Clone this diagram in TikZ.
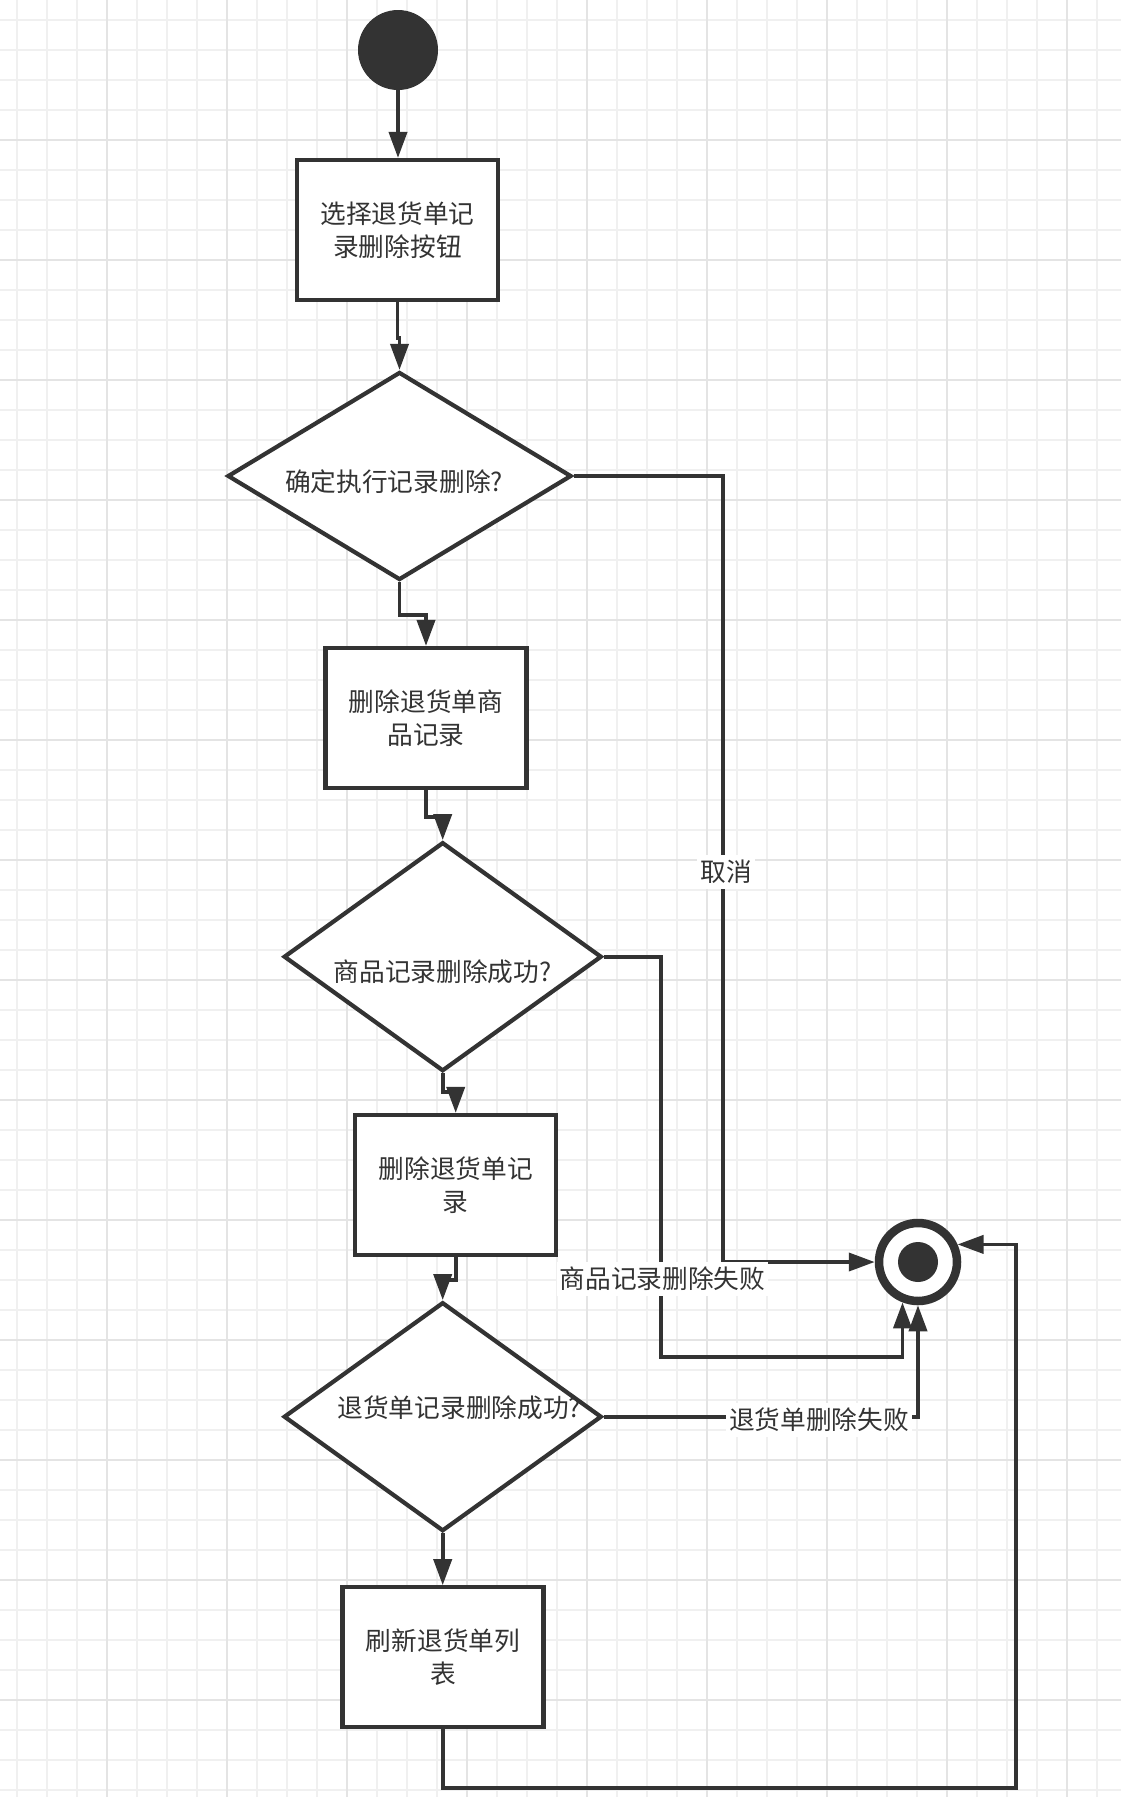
\documentclass[tikz,border=0pt]{standalone}
\usepackage{fontspec}
\setmainfont{Noto Sans CJK SC}
\usetikzlibrary{shapes.geometric,arrows.meta,calc}
\definecolor{ink}{HTML}{333333}
\definecolor{gridminor}{HTML}{F0F0F0}
\definecolor{gridmajor}{HTML}{E4E4E4}
\begin{document}
\begin{tikzpicture}[x=1pt,y=-1pt,
  box/.style={draw=ink, line width=4.2pt, fill=white, minimum width=201pt, minimum height=140pt, inner sep=0pt, align=center, text=ink, font=\fontsize{25.7}{33}\selectfont},
  dia/.style={draw=ink, line width=4.2pt, fill=white, diamond, inner sep=0pt},
  txt/.style={text=ink, font=\fontsize{25.7}{33}\selectfont, inner sep=0pt},
  conn/.style={draw=ink, line width=3.8pt, -{Triangle[length=26pt,width=18pt]}},
  lbl/.style={fill=white, text=ink, font=\fontsize{25.7}{33}\selectfont, inner xsep=3pt, inner ysep=5pt},
  minorline/.style={draw=gridminor, line width=1.3pt},
  majorline/.style={draw=gridmajor, line width=1.5pt},
]
\useasboundingbox (0,0) rectangle (1121,1797);
\fill[white] (0,0) rectangle (1121,1797);
\begin{scope}
\clip (0,0) rectangle (1121,1797);
\foreach \i in {0,...,37} \draw[minorline] ({17+30*\i},0) -- ({17+30*\i},1797);
\foreach \j in {0,...,59} \draw[minorline] (0,{20+30*\j}) -- (1121,{20+30*\j});
\foreach \i in {0,...,9} \draw[majorline] ({107+120*\i},0) -- ({107+120*\i},1797);
\foreach \j in {0,...,14} \draw[majorline] (0,{140+120*\j}) -- (1121,{140+120*\j});
\end{scope}

% nodes
\node[circle, fill=ink, minimum size=80pt, inner sep=0pt] (start) at (398,50) {};
\node[box] (b1) at (397.5,230) {选择退货单记\\录删除按钮};
\node[dia, minimum width=344pt, minimum height=208pt] (d1) at (399.5,476) {};
\node[txt] (d1t) at (394,481.7) {确定执行记录删除?};
\node[box] (b2) at (426,718) {删除退货单商\\品记录};
\node[dia, minimum width=318pt, minimum height=229pt] (d2) at (442.7,956.7) {};
\node[txt] (d2t) at (442.5,972) {商品记录删除成功?};
\node[box] (b3) at (455.7,1185) {删除退货单记\\录};
\node[dia, minimum width=318pt, minimum height=229pt] (d3) at (442.7,1416.7) {};
\node[txt] (d3t) at (459.3,1408) {退货单记录删除成功?};
\node[box] (b4) at (443,1657.3) {刷新退货单列\\表};
\node[circle, draw=ink, fill=white, line width=8.5pt, minimum size=78pt, inner sep=0pt] (end) at (918,1262) {};
\node[circle, fill=ink, minimum size=40pt, inner sep=0pt] (enddot) at (end.center) {};

% bend points
\coordinate (c1) at (723,1262);
\coordinate (c2) at (660.7,1357);
\coordinate (c4) at (1015.6,1788);

% connectors
\draw[conn] (start.south) -- (start.south |- b1.north);
\draw[conn] (b1.south) -- ++(0,36) -| (d1.north);
\draw[conn] (d1.south) -- ++(0,33) -| (b2.north);
\draw[conn] (b2.south) -- ++(0,27) -| (d2.north);
\draw[conn] (d2.south) -- ++(0,19) -| (b3.north);
\draw[conn] (b3.south) -- ++(0,23) -| (d3.north);
\draw[conn] (d3.south) -- (d3.south |- b4.north);
\draw[conn] (d1.east) -| (c1) -- (end.west);
\draw[conn] (d2.east) -| (c2) -| (end.-111);
\draw[conn] (d3.east) -| (end.south);
\draw[conn] (b4.south) |- (c4) |- (end.24.7);

% labels
\node[lbl] (l1) at (726,872) {取消};
\node[lbl] (l2) at (662.5,1279) {商品记录删除失败};
\node[lbl] (l3) at (819,1420) {退货单删除失败};
\end{tikzpicture}
\end{document}
